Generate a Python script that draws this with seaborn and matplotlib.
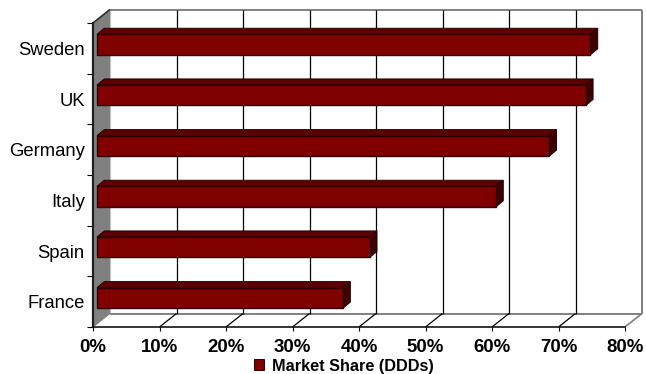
#!/usr/bin/env python3
# -*- coding: utf-8 -*-
"""Market share by country, horizontal bars with a fake 3D look"""

import matplotlib
matplotlib.use("Agg")
import matplotlib.pyplot as plt
from matplotlib.patches import Polygon
from matplotlib.transforms import Affine2D, IdentityTransform
from matplotlib.ticker import FixedLocator
import pandas as pd
import seaborn as sns

# data
countries = ["Sweden", "UK", "Germany", "Italy", "Spain", "France"]
market_share = [74.2, 73.5, 68, 60, 41, 37]
x_ticks = [0, 10, 20, 30, 40, 50, 60, 70, 80]
x_labels = ["0%", "10%", "20%", "30%", "40%", "50%", "60%", "70%", "80%"]
series_name = "Market Share (DDDs)"

W, H = 646, 374
DEPTH = (17, 13.5)     # back wall offset, pixels
BAR_SHIFT = (4, 3.8)   # bar sits a little behind the front plane
BAR_DEPTH = (7.3, 6)   # thickness of the bar

FACE = "#800000"
TOP = "#5c0000"
SIDE = "#3f0000"
WALL = "#808080"

sns.set_theme(style="white")
plt.rcParams["font.family"] = ["Liberation Sans", "DejaVu Sans"]

fig = plt.figure(figsize=(W / 100, H / 100), dpi=100)
ax = fig.add_axes([93 / W, (H - 327) / H, 532 / W, 304 / H])

df = pd.DataFrame({"country": countries, "share": market_share})
sns.barplot(data=df, x="share", y="country", orient="h", color=FACE, width=0.405,
            saturation=1, edgecolor="#2a0000", linewidth=0.8, label=series_name,
            legend=False, ax=ax, zorder=5)

ax.set_xlim(0, 80)
ax.set_ylim(5.5, -0.5)
ax.set_xlabel("")
ax.set_ylabel("")
ax.patch.set_visible(False)
ax.grid(False)


def px(x, y, dx=0, dy=0):
    """data coords -> pixel coords, plus a pixel offset"""
    p = ax.transData.transform((x, y))
    return (p[0] + dx, p[1] + dy)


def poly(points, color, edge=None, lw=0.7, z=1):
    fig.add_artist(Polygon(points, closed=True, facecolor=color, edgecolor=edge or color,
                           linewidth=lw, transform=IdentityTransform(), zorder=z))


def line(p0, p1, color, lw=1.0, z=1):
    ax.plot([p0[0], p1[0]], [p0[1], p1[1]], color=color, lw=lw, solid_capstyle="butt",
            transform=IdentityTransform(), clip_on=False, zorder=z)


ax.set_zorder(3)
dx, dy = DEPTH
top, bottom = -0.5, 5.5

# left wall and back wall
poly([px(0, top), px(0, top, dx, dy), px(0, bottom, dx, dy), px(0, bottom)], WALL, z=0)
for a, b in [((0, top), (80, top)), ((80, top), (80, bottom)), ((0, bottom), (80, bottom))]:
    line(px(*a, dx, dy), px(*b, dx, dy), WALL, lw=1.4, z=1)
line(px(80, bottom), px(80, bottom, dx, dy), WALL, lw=1.2, z=1)
line(px(0, top), px(0, top, dx, dy), "#303030", lw=1.2, z=1)

# gridlines on the back wall, diagonals across the floor
for t in x_ticks[1:-1]:
    line(px(t, top, dx, dy), px(t, bottom, dx, dy), "black", lw=0.9, z=2)
    line(px(t, bottom), px(t, bottom, dx, dy), "black", lw=0.9, z=2)

# move the bars back and add their top and side faces
sx, sy = BAR_SHIFT
bx, by = BAR_DEPTH
for bar in ax.patches:
    x1 = bar.get_width()
    y0 = bar.get_y()
    y1 = y0 + bar.get_height()
    bar.set_visible(False)
    a = px(0, y1, sx, sy)
    b = px(x1, y1, sx, sy)
    c = px(x1, y0, sx, sy)
    d = px(0, y0, sx, sy)
    poly([d, c, (c[0] + bx, c[1] + by), (d[0] + bx, d[1] + by)], TOP, edge="#2a0000", z=4)
    poly([c, b, (b[0] + bx, b[1] + by), (c[0] + bx, c[1] + by)], SIDE, edge="#2a0000", z=4)
    poly([a, b, c, d], FACE, edge="#2a0000", lw=1.0, z=4)

# axes
for s in ["top", "right"]:
    ax.spines[s].set_visible(False)
ax.spines["left"].set_linewidth(1.6)
ax.spines["left"].set_color("#202020")
ax.spines["bottom"].set_linewidth(1.1)
ax.spines["bottom"].set_color("black")

ax.set_xticks(x_ticks)
ax.set_xticklabels(x_labels, fontsize=13.4, fontweight="bold", color="black")
ax.tick_params(axis="x", direction="out", length=3, width=0.8, color="black", pad=6, bottom=True)
ax.tick_params(axis="y", which="major", length=0, pad=6, left=False, labelsize=13.3, labelcolor="black")
ax.yaxis.set_minor_locator(FixedLocator([i - 0.5 for i in range(7)]))
ax.tick_params(axis="y", which="minor", direction="out", length=4, width=0.8, color="black", left=True)
for label in ax.get_yticklabels():
    label.set_transform(label.get_transform() + Affine2D().translate(0, -0.3))

# legend
handle = plt.Rectangle((0, 0), 1, 1, facecolor=FACE, edgecolor="#2a0000", linewidth=0.7)
fig.legend([handle], [series_name], loc="center", bbox_to_anchor=(343.5 / W, (H - 366) / H),
           frameon=False, prop={"size": 11.7, "weight": "bold"}, labelcolor="black",
           handlelength=0.65, handleheight=0.65, handletextpad=0.45, borderpad=0, borderaxespad=0)

fig.savefig("out.png", dpi=100)
